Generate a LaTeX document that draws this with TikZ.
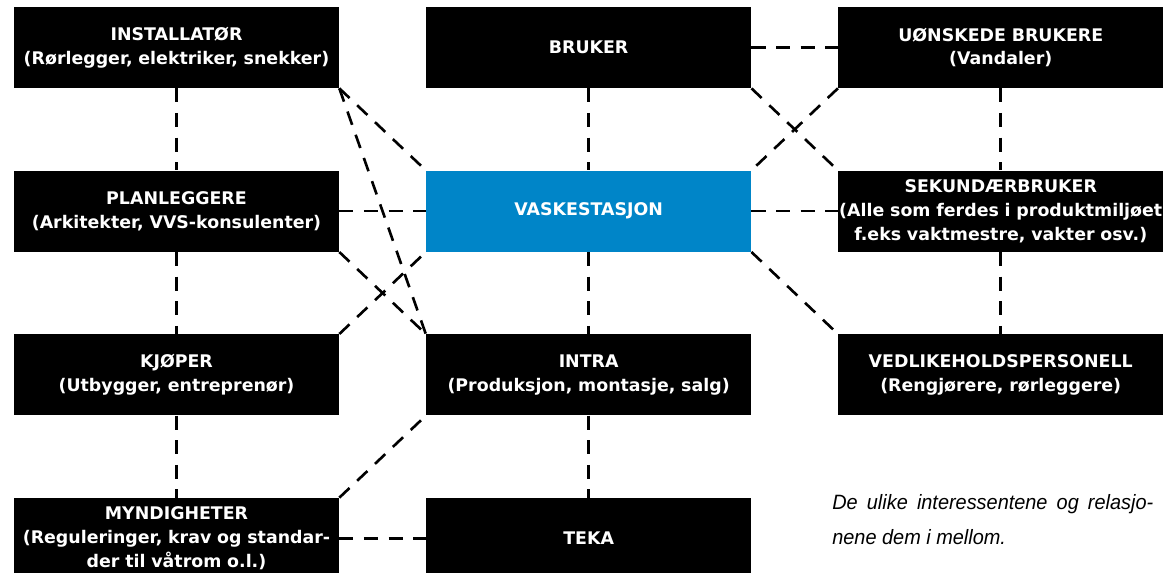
\documentclass[tikz,border=0pt]{standalone}
\usepackage{fontspec}
\newfontfamily\boxfont{DejaVu Sans}
\newfontfamily\notefont[FakeStretch=0.96]{Liberation Sans}
\usepackage{tikz}
\definecolor{vaskblue}{RGB}{0,133,200}
\tikzset{main node/.style={rectangle,fill=black,text=white,inner sep=0pt,text width=6.5cm,minimum height=1.62cm,align=center,font=\boxfont\bfseries\fontsize{9.9}{13.6}\selectfont},
link/.style={line width=1.5pt,dash pattern=on 8pt off 6pt},
}
\usetikzlibrary{positioning}

\begin{document}
\begin{tikzpicture}[x=0.02cm,y=-0.02cm]
			\useasboundingbox (0,0) rectangle (1167,572);
			
			%% left column
			\node[main node] (inst) at (176.5,47.5) {INSTALLATØR\\(Rørlegger, elektriker, snekker)};
			\node[main node] (plan) [below = 1.64cm of inst] {PLANLEGGERE\\(Arkitekter, VVS-konsulenter)};
			\node[main node] (kjop) [below = 1.64cm of plan] {KJØPER\\(Utbygger, entreprenør)};
			\node[main node] (mynd) [below = 1.64cm of kjop] {MYNDIGHETER\\(Reguleringer, krav og standar-\\der til våtrom o.l.)};
			
			%% middle column
			\node[main node] (bruk) [right = 1.73cm of inst] {BRUKER};
			\node[main node,fill=vaskblue] (vask) [below = 1.64cm of bruk] {VASKESTASJON};
			\node[main node] (intra) [below = 1.64cm of vask] {INTRA\\(Produksjon, montasje, salg)};
			\node[main node] (teka) [below = 1.64cm of intra] {TEKA};
			
			%% right column
			\node[main node] (uons) [right = 1.73cm of bruk] {UØNSKEDE BRUKERE\\(Vandaler)};
			\node[main node] (sek) [below = 1.64cm of uons] {SEKUNDÆRBRUKER\\(Alle som ferdes i produktmiljøet\\f.eks vaktmestre, vakter osv.)};
			\node[main node] (vedl) [below = 1.64cm of sek] {VEDLIKEHOLDSPERSONELL\\(Rengjørere, rørleggere)};
			
			\node[anchor=north west,inner sep=0pt,text width=6.42cm,align=justify,font=\notefont\itshape\fontsize{11.8}{19.8}\selectfont] (note) at (832,494)
			{De ulike interessentene og relasjo-\linebreak nene dem i mellom.};
			
			\path[draw,link]
			(inst) edge (plan)
			(plan) edge (kjop)
			(kjop) edge (mynd)
			(bruk) edge (vask)
			(vask) edge (intra)
			(intra) edge (teka)
			(uons) edge (sek)
			(sek) edge (vedl)
			(bruk) edge (uons)
			(plan) edge (vask)
			(vask) edge (sek)
			(mynd) edge (teka)
			(inst.south east) edge (vask.north west)
			(inst.south east) edge (intra.north west)
			(plan.south east) edge (intra.north west)
			(kjop.north east) edge (vask.south west)
			(mynd.north east) edge (intra.south west)
			(bruk.south east) edge (sek.north west)
			(uons.south west) edge (vask.north east)
			(vask.south east) edge (vedl.north west)
			;
\end{tikzpicture}
\end{document}
